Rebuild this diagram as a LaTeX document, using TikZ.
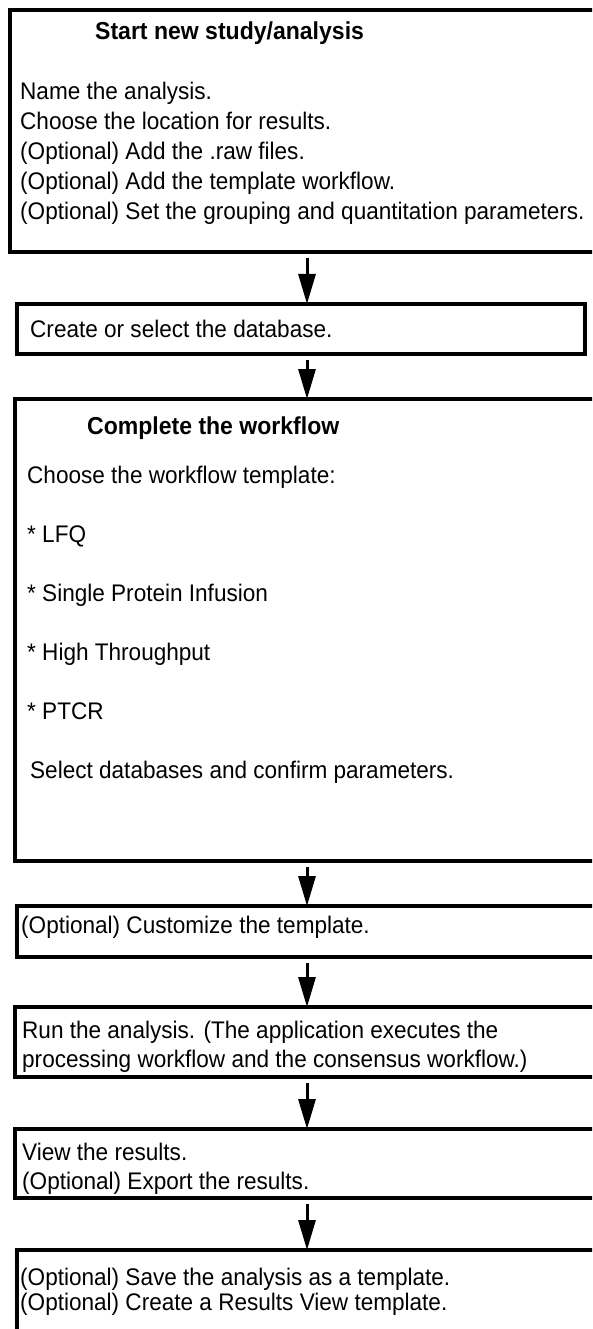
\documentclass[tikz,border=0pt]{standalone}
\usepackage{fontspec}
\setmainfont{Liberation Sans}[FakeStretch=0.94]
\usetikzlibrary{arrows.meta,positioning}

\begin{document}
\begin{tikzpicture}[x=1pt,y=-1pt]
\tikzset{
  stepbox/.style={draw,line width=4pt,inner sep=0pt,outer sep=0pt,anchor=north west},
  txt/.style={anchor=base west,inner sep=0pt,font=\fontsize{24}{28}\selectfont},
  hd/.style={anchor=base west,inner sep=0pt,font=\bfseries\fontsize{24.5}{28}\selectfont},
  flow/.style={-{Triangle[length=30pt,width=17pt]},line width=3pt}
}
\useasboundingbox (0,0) rectangle (592,1329);
\clip (0,0) rectangle (592,1329);
% boxes
\node [stepbox,minimum width=600pt,minimum height=242pt] (b1) at (10,10) {};
\node [stepbox,minimum width=568pt,minimum height=50pt] (b2) at (17,304) {};
\node [stepbox,minimum width=600pt,minimum height=462pt] (b3) at (15,399) {};
\node [stepbox,minimum width=600pt,minimum height=51pt] (b4) at (17,906) {};
\node [stepbox,minimum width=600pt,minimum height=70pt] (b5) at (15,1007) {};
\node [stepbox,minimum width=600pt,minimum height=69pt] (b6) at (15,1129) {};
\node [stepbox,minimum width=600pt,minimum height=100pt] (b7) at (17,1250) {};
% start box
\node [hd] (h1) at (95,40) {Start new study/analysis};
\foreach \t [count=\i] in {Name the analysis.,
    Choose the location for results.,
    (Optional) Add the .raw files.,
    (Optional) Add the template workflow.,
    (Optional) Set the grouping and quantitation parameters.}
  \node [txt] (s\i) at (20,{100+30*(\i-1)}) {\t};
% database
\node [txt] (db) at (30,337) {Create or select the database.};
% workflow box
\node [hd] (h3) at (87,434) {Complete the workflow};
\foreach \t [count=\i] in {Choose the workflow template:,
    * LFQ,* Single Protein Infusion,* High Throughput,* PTCR}
  \node [txt] (w\i) at (27,{483+59*(\i-1)}) {\t};
\node [txt] (w6) at (30,778) {Select databases and confirm parameters.};
% remaining steps
\node [txt] (c1) at (21,933) {(Optional) Customize the template.};
\node [txt] (r1) at (22,1038) {Run the analysis. (The application executes the};
\node [txt] (r2) at (22,1067) {processing workflow and the consensus workflow.)};
\node [txt] (v1) at (22,1160) {View the results.};
\node [txt] (v2) at (22,1189) {(Optional) Export the results.};
\node [txt] (t1) at (20,1285) {(Optional) Save the analysis as a template.};
\node [txt] (t2) at (20,1310) {(Optional) Create a Results View template.};
% arrows
\coordinate (ax) at (307,0);
\foreach \a/\b in {b1/b2,b2/b3,b3/b4,b4/b5,b5/b6,b6/b7}
  \draw [flow] (\a.south -| ax) ++(0,6) -- (\b.north -| ax);
\end{tikzpicture}
\end{document}
